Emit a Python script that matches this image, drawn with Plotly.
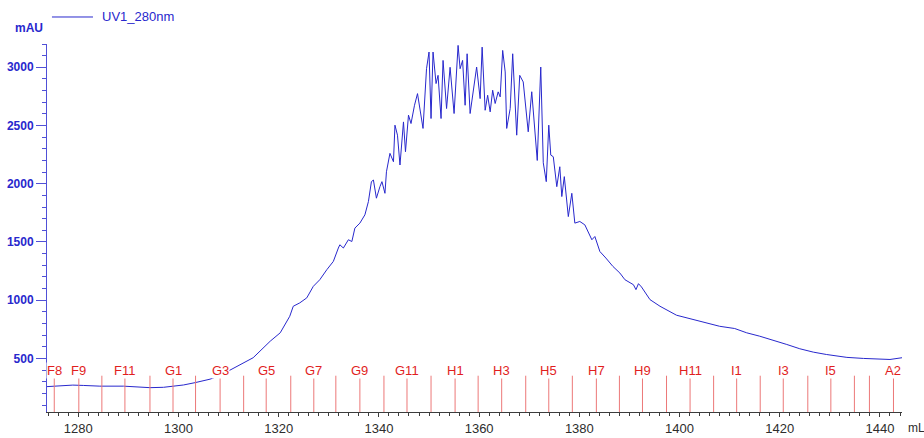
import plotly.graph_objects as go

# UV absorbance trace at 280 nm (elution volume in mL, absorbance in mAU)
elution_ml = [
    1273.75, 1276.0, 1278.9, 1281.0, 1284.3, 1289.0, 1292.0, 1294.3, 1297.0, 1298.9,
    1301.0, 1303.3, 1306.3, 1308.3, 1310.6, 1312.3, 1314.9, 1318.3, 1320.3, 1322.2,
    1322.9, 1324.2, 1325.6, 1326.9, 1328.2, 1329.6, 1330.9, 1331.9, 1332.2, 1332.9,
    1333.9, 1334.6, 1335.2, 1336.2, 1337.2, 1337.9, 1338.5, 1338.9, 1339.5, 1340.2,
    1340.6, 1341.2, 1341.5, 1342.2, 1342.9, 1343.2, 1343.7, 1344.2, 1344.9, 1345.3,
    1345.9, 1346.4, 1347.1, 1347.7, 1348.4, 1348.8, 1349.5, 1350.0, 1350.4, 1350.8,
    1351.4, 1351.8, 1352.4, 1352.8, 1353.5, 1354.2, 1355.0, 1355.8, 1356.2, 1356.7,
    1357.2, 1357.6, 1358.2, 1359.2, 1359.5, 1360.2, 1360.6, 1361.2, 1361.7, 1362.2,
    1362.7, 1363.2, 1363.8, 1364.2, 1364.7, 1365.2, 1365.5, 1366.2, 1366.7, 1367.5,
    1368.1, 1368.8, 1369.8, 1370.5, 1371.0, 1371.6, 1372.3, 1372.8, 1373.4, 1373.9,
    1374.3, 1374.8, 1375.5, 1376.1, 1376.5, 1377.0, 1377.8, 1378.5, 1379.1, 1380.1,
    1381.1, 1382.5, 1383.1, 1384.1, 1385.3, 1386.7, 1388.1, 1389.1, 1390.8, 1391.3,
    1391.8, 1392.4, 1394.1, 1396.1, 1399.4, 1402.7, 1405.7, 1408.0, 1411.0, 1413.4,
    1416.0, 1418.7, 1421.4, 1424.0, 1426.7, 1429.3, 1433.4, 1436.7, 1440.0, 1442.0,
    1444.4,
]
uv_mau = [
    258, 262, 271, 268, 262, 262, 255, 249, 252, 263,
    272, 292, 322, 354, 406, 449, 506, 648, 720, 862,
    948, 977, 1020, 1119, 1176, 1262, 1333, 1448, 1476, 1448,
    1519, 1504, 1619, 1662, 1733, 1847, 2018, 2032, 1876, 1975,
    2018, 1918, 2103, 2261, 2189, 2503, 2417, 2161, 2531, 2275,
    2589, 2517, 2674, 2774, 2589, 2475, 2988, 3131, 2560, 3131,
    2860, 2931, 2560, 3059, 2646, 3000, 2603, 3188, 2988, 3059,
    2674, 3116, 2603, 2931, 3002, 2731, 3173, 2631, 2760, 2617,
    2803, 2689, 2789, 2746, 3145, 2960, 2475, 2646, 3116, 2417,
    2931, 2874, 2446, 2790, 2520, 2200, 3002, 2180, 2018, 2503,
    2246, 2232, 1975, 2146, 1890, 2061, 1718, 1918, 1662, 1676,
    1647, 1519, 1547, 1418, 1362, 1290, 1233, 1176, 1133, 1091,
    1142, 1114, 1005, 948, 871, 834, 800, 776, 757, 720,
    691, 657, 620, 583, 554, 534, 509, 500, 497, 491,
    506,
]

# Fraction collector marks
fraction_ml = [
    1275.2, 1280.1, 1284.7, 1289.3, 1294.3, 1298.9, 1303.4, 1308.3, 1313.0, 1317.5,
    1322.4, 1327.0, 1331.4, 1336.2, 1341.0, 1345.6, 1350.4, 1355.2, 1359.8, 1364.5,
    1369.3, 1373.9, 1378.6, 1383.4, 1388.0, 1392.6, 1397.4, 1402.1, 1406.8, 1411.4,
    1416.1, 1420.7, 1425.6, 1430.2, 1434.9, 1437.9, 1442.7,
]
fraction_labels = [
    "F8", "F9", "", "F11", "", "G1", "", "G3", "", "G5",
    "", "G7", "", "G9", "", "G11", "", "H1", "", "H3",
    "", "H5", "", "H7", "", "H9", "", "H11", "", "I1",
    "", "I3", "", "I5", "", "", "A2",
]

x_ticks = [1280, 1300, 1320, 1340, 1360, 1380, 1400, 1420, 1440]
y_ticks = [500, 1000, 1500, 2000, 2500, 3000]

FONT = "Arial, Liberation Sans, sans-serif"
BLUE = "rgb(40,40,205)"
AXIS_BLUE = "rgb(80,80,215)"
RED_TEXT = "rgb(225,30,30)"
RED_LINE = "rgb(236,120,120)"
GREY_TEXT = "rgb(45,45,45)"

fig = go.Figure()
fig.add_trace(go.Scatter(
    x=elution_ml, y=uv_mau, mode="lines", name="UV1_280nm",
    line=dict(color=BLUE, width=1), showlegend=False,
))

# Fraction lines and their labels
LINE_TOP = 0.0986
for pos, lab in zip(fraction_ml, fraction_labels):
    fig.add_shape(type="line", xref="x", yref="paper",
                  x0=pos, x1=pos, y0=0, y1=LINE_TOP,
                  line=dict(color=RED_LINE, width=1))
    if lab:
        fig.add_annotation(x=pos, y=0.114, xref="x", yref="paper",
                           text=lab, showarrow=False, bgcolor="white",
                           borderpad=0,
                           font=dict(family=FONT, size=13, color=RED_TEXT),
                           xanchor="center", yanchor="middle")

# Legend entry drawn at the top left
fig.add_shape(type="line", xref="paper", yref="paper",
              x0=0.0058, x1=0.0538, y0=1.0734, y1=1.0734,
              line=dict(color=BLUE, width=1))
fig.add_annotation(x=0.062, y=1.0734, xref="paper", yref="paper",
                   text="UV1_280nm", showarrow=False,
                   xanchor="left", yanchor="middle",
                   font=dict(family=FONT, size=13, color=BLUE))

# Axis unit labels
fig.add_annotation(x=-0.0205, y=1.043, xref="paper", yref="paper",
                   text="<b>mAU</b>", showarrow=False, xanchor="center",
                   yanchor="middle",
                   font=dict(family=FONT, size=12, color=BLUE))
fig.add_annotation(x=1.0, y=-0.043, xref="paper", yref="paper",
                   text="mL", showarrow=False, xanchor="left", yanchor="middle",
                   xshift=4,
                   font=dict(family=FONT, size=12, color=GREY_TEXT))

fig.update_layout(
    width=924, height=438,
    margin=dict(l=47, r=22, t=44, b=26, autoexpand=False),
    paper_bgcolor="white", plot_bgcolor="white",
    showlegend=False,
    font=dict(family=FONT),
)
fig.update_xaxes(
    automargin=False,
    range=[1273.75, 1444.4], showgrid=False, zeroline=False,
    showline=True, linecolor="rgb(60,60,60)", linewidth=1,
    tickmode="array", tickvals=x_ticks, ticktext=[str(v) for v in x_ticks],
    ticks="outside", ticklen=4, tickcolor="rgb(60,60,60)",
    ticklabelstandoff=0,
    tickfont=dict(family=FONT, size=13, color=GREY_TEXT),
    minor=dict(dtick=2, tick0=1280, ticks="outside", ticklen=3,
               tickcolor="rgb(60,60,60)", showgrid=False),
)
fig.update_yaxes(
    automargin=False,
    range=[40, 3200], showgrid=False, zeroline=False,
    showline=True, linecolor=AXIS_BLUE, linewidth=1,
    tickmode="array", tickvals=y_ticks,
    ticktext=["<b>%d</b>" % v for v in y_ticks],
    ticks="outside", ticklen=10, tickcolor=AXIS_BLUE,
    tickfont=dict(family=FONT, size=12, color=BLUE),
    minor=dict(dtick=100, tick0=0, ticks="outside", ticklen=4,
               tickcolor=AXIS_BLUE, showgrid=False),
)

fig.write_html("out.html")
